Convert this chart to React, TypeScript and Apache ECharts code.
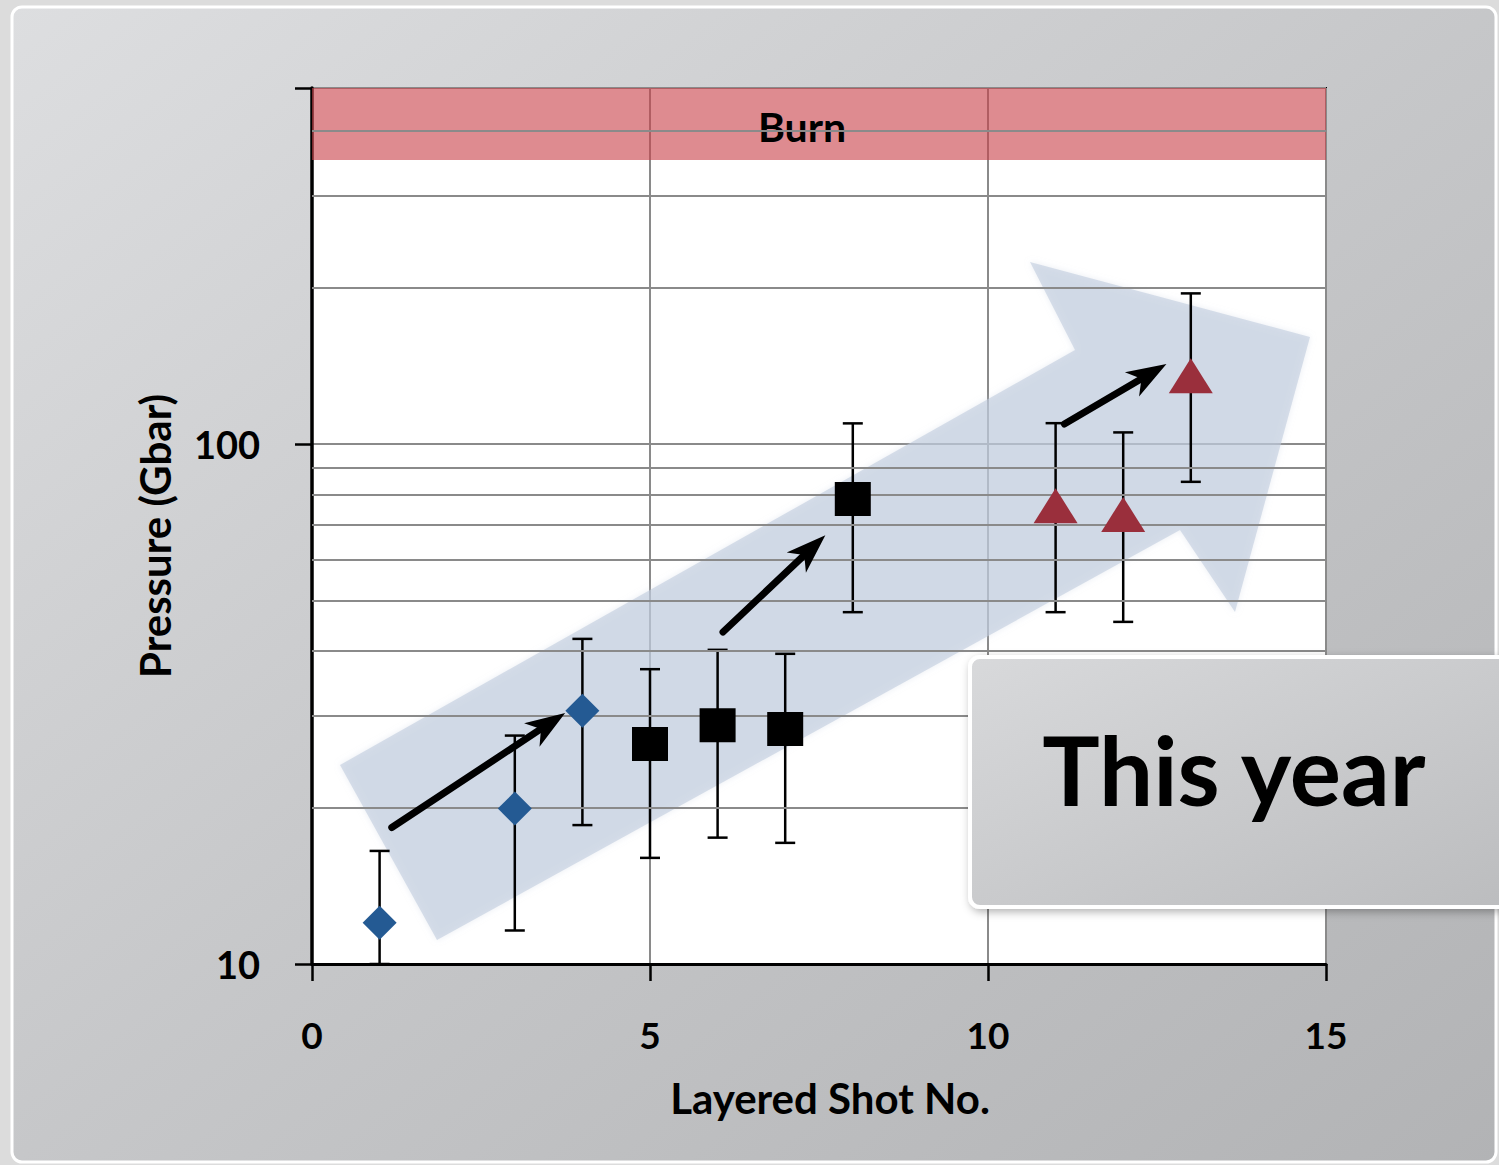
import React, { useEffect, useRef } from "react";
import * as echarts from "echarts";

const FONT = "Lato, 'Open Sans', sans-serif";

// Layered shots — first campaign (blue diamonds)
const diamondShots = [1, 3, 4];
const diamondPressure = [12.0, 19.9, 30.7];
const diamondLow = [10.0, 11.6, 18.5];
const diamondHigh = [16.5, 27.5, 42.2];

// Second campaign (black squares)
const squareShots = [5, 6, 7, 8];
const squarePressure = [26.5, 28.8, 28.3, 78.4];
const squareLow = [16.0, 17.5, 17.1, 47.5];
const squareHigh = [36.9, 40.2, 39.5, 109.6];

// This year (red triangles)
const triangleShots = [11, 12, 13];
const trianglePressure = [76.1, 73.2, 135.3];
const triangleLow = [47.5, 45.5, 84.6];
const triangleHigh = [109.7, 105.3, 194.9];

// Axis ranges and extra grid lines for the log scale
const xTicks = [0, 5, 10, 15];
const yLabelValues = [10, 100];
const yMin = 10;
const yMax = 484;
const minorGridValues = [20, 30, 40, 50, 60, 70, 80, 90, 200, 300, 400];
const burnRange = [352, 484];

// Improvement arrows between campaigns: [shot, pressure] start and tip
const trendArrowFrom = [
  [1.18, 18.3],
  [6.08, 43.5],
  [11.13, 109.3],
];
const trendArrowTo = [
  [3.745, 30.4],
  [7.594, 66.8],
  [12.64, 142.5],
];

const errorRows = [
  ...diamondShots.map((x, i) => [x, diamondLow[i], diamondHigh[i]]),
  ...squareShots.map((x, i) => [x, squareLow[i], squareHigh[i]]),
  ...triangleShots.map((x, i) => [x, triangleLow[i], triangleHigh[i]]),
];

const arrowRows = trendArrowFrom.map((p, i) => [p[0], p[1], trendArrowTo[i][0], trendArrowTo[i][1]]);

function renderErrorBar(_params: any, api: any) {
  const x = api.value(0);
  const top = api.coord([x, api.value(2)]);
  const bot = api.coord([x, api.value(1)]);
  const hw = 10;
  const style = { stroke: "#000", lineWidth: 2.5 };
  return {
    type: "group",
    children: [
      { type: "line", shape: { x1: top[0], y1: top[1], x2: bot[0], y2: bot[1] }, style },
      { type: "line", shape: { x1: top[0] - hw, y1: top[1], x2: top[0] + hw, y2: top[1] }, style },
      { type: "line", shape: { x1: bot[0] - hw, y1: bot[1], x2: bot[0] + hw, y2: bot[1] }, style },
    ],
  };
}

function renderTrendArrow(_params: any, api: any) {
  const p0 = api.coord([api.value(0), api.value(1)]);
  const p1 = api.coord([api.value(2), api.value(3)]);
  const dx = p1[0] - p0[0];
  const dy = p1[1] - p0[1];
  const len = Math.sqrt(dx * dx + dy * dy);
  const ux = dx / len;
  const uy = dy / len;
  const nx = -uy;
  const ny = ux;
  const headLen = 40;
  const headHalf = 14;
  const notch = 11;
  const base = [p1[0] - ux * headLen, p1[1] - uy * headLen];
  const inner = [p1[0] - ux * (headLen - notch), p1[1] - uy * (headLen - notch)];
  return {
    type: "group",
    children: [
      {
        type: "line",
        shape: { x1: p0[0], y1: p0[1], x2: inner[0], y2: inner[1] },
        style: { stroke: "#000", lineWidth: 7, lineCap: "round" },
      },
      {
        type: "polygon",
        shape: {
          points: [
            [p1[0], p1[1]],
            [base[0] + nx * headHalf, base[1] + ny * headHalf],
            [inner[0], inner[1]],
            [base[0] - nx * headHalf, base[1] - ny * headHalf],
          ],
        },
        style: { fill: "#000" },
      },
    ],
  };
}

function isLabelValue(v: number) {
  return yLabelValues.some((t) => Math.abs(v - t) / t < 1e-6);
}

const labelText = { color: "#000", fontFamily: FONT, fontWeight: "bold" as const, fontSize: 37 };

const option: any = {
  animation: false,
  backgroundColor: "#dcdcdc",
  grid: {
    left: 312,
    top: 88,
    width: 1014,
    height: 876,
    show: true,
    backgroundColor: "#ffffff",
    borderColor: "#000",
    borderWidth: 2,
  },
  xAxis: {
    type: "value",
    min: xTicks[0],
    max: xTicks[xTicks.length - 1],
    interval: 5,
    name: "Layered Shot No.",
    nameLocation: "middle",
    nameGap: 113,
    nameTextStyle: { ...labelText, fontSize: 42, padding: [0, 0, 0, 22] },
    axisLine: { lineStyle: { color: "#000", width: 3 } },
    axisTick: { show: true, inside: false, length: 17, lineStyle: { color: "#000", width: 2.5 } },
    axisLabel: { ...labelText, margin: 52 },
    splitLine: { show: true, lineStyle: { color: "#8a8a8a", width: 2 } },
  },
  yAxis: {
    type: "log",
    logBase: 10,
    min: yMin,
    max: yMax,
    name: "Pressure (Gbar)",
    nameLocation: "middle",
    nameGap: 136,
    nameTextStyle: { ...labelText, fontSize: 42, padding: [0, 20, 0, 0] },
    axisLine: { lineStyle: { color: "#000", width: 3.5 } },
    axisTick: { show: true, inside: false, length: 17, lineStyle: { color: "#000", width: 2.5 } },
    axisLabel: {
      ...labelText,
      fontSize: 38,
      margin: 52,
      formatter: (v: number) => (isLabelValue(v) ? String(Math.round(v)) : ""),
    },
    splitLine: { show: true, lineStyle: { color: "#8a8a8a", width: 2 } },
  },
  graphic: [
    {
      type: "rect",
      z: -10,
      shape: { x: 12, y: 7, width: 1484, height: 1155, r: 10 },
      style: {
        fill: new echarts.graphic.LinearGradient(0, 0, 1, 1, [
          { offset: 0, color: "#dddee0" },
          { offset: 0.5, color: "#c6c7c9" },
          { offset: 1, color: "#b2b3b5" },
        ]),
        stroke: "#ffffff",
        lineWidth: 3,
      },
    },
    {
      // translucent "progress" arrow behind the data
      type: "polygon",
      z: 1.5,
      shape: {
        points: [
          [340, 765],
          [1075, 350],
          [1030, 262],
          [1310, 337],
          [1235, 612],
          [1180, 530],
          [437, 940],
        ],
      },
      style: {
        fill: "rgba(192,204,221,0.6)",
        shadowBlur: 6,
        shadowColor: "rgba(192,204,221,0.55)",
      },
    },
    {
      type: "rect",
      z: 20,
      shape: { x: 970, y: 657, width: 560, height: 250, r: 10 },
      style: {
        fill: new echarts.graphic.LinearGradient(0, 0, 1, 1, [
          { offset: 0, color: "#d8d9db" },
          { offset: 1, color: "#bbbcbe" },
        ]),
        stroke: "#ffffff",
        lineWidth: 4,
        shadowBlur: 8,
        shadowOffsetX: 2,
        shadowOffsetY: 3,
        shadowColor: "rgba(0,0,0,0.3)",
      },
    },
    {
      type: "text",
      z: 21,
      x: 1234,
      y: 768,
      style: {
        text: "This year",
        fill: "#000",
        fontFamily: FONT,
        fontWeight: "bold",
        fontSize: 96,
        textAlign: "center",
        textVerticalAlign: "middle",
      },
    },
  ],
  series: [
    {
      // minor log grid lines
      type: "line",
      z: 1,
      data: [],
      silent: true,
      markLine: {
        silent: true,
        symbol: "none",
        label: { show: false },
        lineStyle: { color: "#8a8a8a", width: 2, type: "solid" },
        data: minorGridValues.map((v) => ({ yAxis: v })),
      },
    },
    {
      // burn regime band
      type: "line",
      z: 3,
      data: [],
      silent: true,
      markArea: {
        silent: true,
        itemStyle: { color: "rgba(201,65,73,0.61)" },
        label: {
          show: true,
          position: "inside",
          offset: [-17, 3],
          color: "#000",
          fontFamily: FONT,
          fontWeight: "bold",
          fontSize: 41,
        },
        data: [[{ yAxis: burnRange[0], name: "Burn" }, { yAxis: burnRange[1] }]],
      },
    },
    {
      type: "custom",
      z: 4,
      silent: true,
      renderItem: renderErrorBar,
      encode: { x: 0, y: [1, 2] },
      data: errorRows,
    },
    {
      type: "scatter",
      z: 5,
      symbol: "diamond",
      symbolSize: 34,
      itemStyle: { color: "#245a93", opacity: 1 },
      data: diamondShots.map((x, i) => [x, diamondPressure[i]]),
    },
    {
      type: "scatter",
      z: 5,
      symbol: "rect",
      symbolSize: [36, 34],
      itemStyle: { color: "#000", opacity: 1 },
      data: squareShots.map((x, i) => [x, squarePressure[i]]),
    },
    {
      type: "scatter",
      z: 5,
      symbol: "triangle",
      symbolSize: [44, 35],
      itemStyle: { color: "#9a2f3c", opacity: 1 },
      data: triangleShots.map((x, i) => [x, trianglePressure[i]]),
    },
    {
      type: "custom",
      z: 6,
      silent: true,
      renderItem: renderTrendArrow,
      encode: { x: [0, 2], y: [1, 3] },
      data: arrowRows,
    },
  ],
};

export default function App() {
  const ref = useRef<HTMLDivElement>(null);
  useEffect(() => {
    const chart = echarts.init(ref.current!, null, { renderer: "svg" });
    chart.setOption(option);
    return () => chart.dispose();
  }, []);
  return (
    <div
      ref={ref}
      style={{ position: "fixed", left: 0, top: 0, width: 1499, height: 1165 }}
    />
  );
}
